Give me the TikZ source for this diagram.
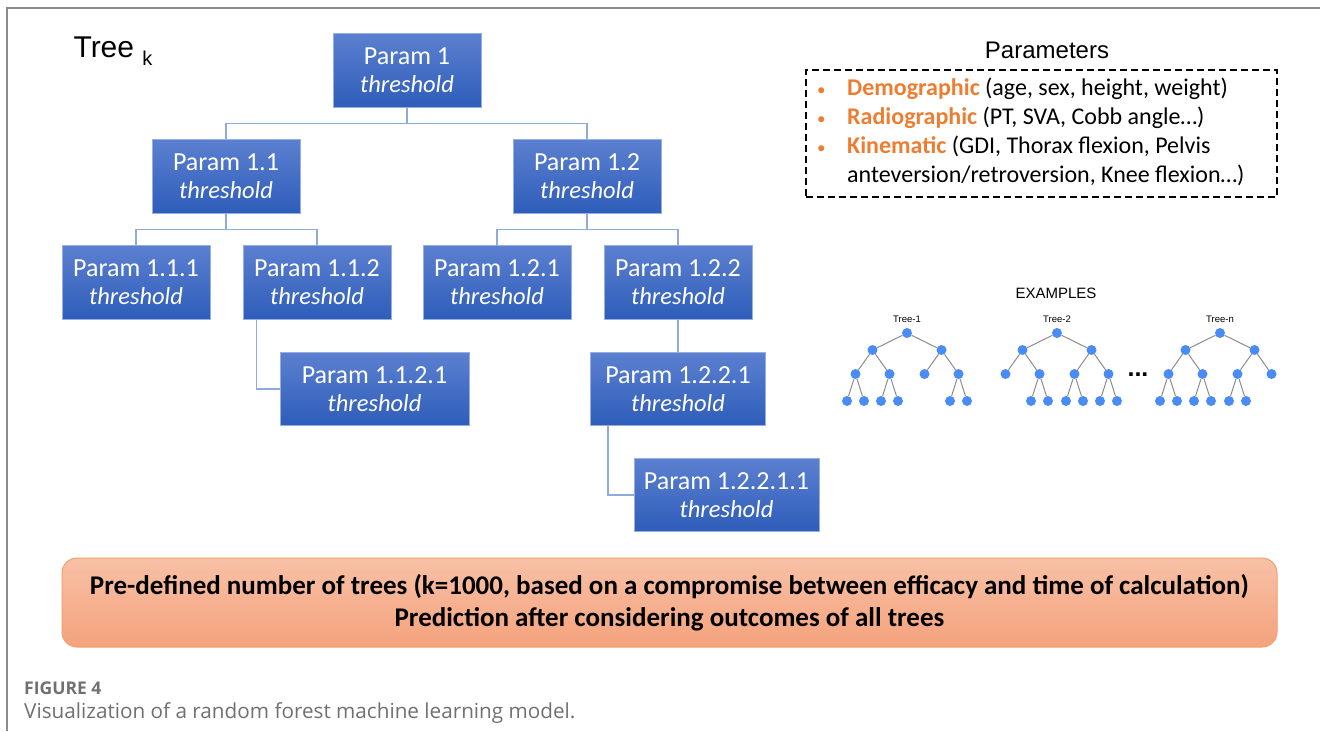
\documentclass[tikz,border=0pt]{standalone}
\usepackage{fontspec}
\usepackage{xcolor}
\usetikzlibrary{calc}

\newfontfamily\calibri{Carlito}
\newfontfamily\arial{Liberation Sans}
\newfontfamily\capfont{Open Sans}

\definecolor{partop}{RGB}{92,128,208}
\definecolor{parbot}{RGB}{46,93,186}
\definecolor{parborder}{RGB}{150,175,225}
\definecolor{linkblue}{RGB}{143,170,220}
\definecolor{paramorange}{RGB}{237,125,49}
\definecolor{dotblue}{RGB}{74,139,245}
\definecolor{edgegray}{RGB}{140,140,140}
\definecolor{sumtop}{RGB}{248,193,166}
\definecolor{sumbot}{RGB}{244,162,124}
\definecolor{sumborder}{RGB}{242,160,112}
\definecolor{capgray}{RGB}{112,112,112}

\tikzset{
	param/.style={draw=parborder, line width=1pt, top color=partop, bottom color=parbot,
		text=white, minimum width=148pt, minimum height=74pt, inner sep=0pt,
		align=center, font=\calibri\fontsize{26}{28}\selectfont},
	link/.style={draw=linkblue, line width=1.3pt},
	dot/.style={circle, fill=dotblue, minimum size=10pt, inner sep=0pt},
	minilabel/.style={font=\arial\fontsize{9.5}{10}\selectfont},
}
\newcommand{\thr}{\\\fontsize{24.5}{28}\selectfont\textit{threshold}}
\newcommand{\bul}{\textcolor{paramorange}{\fontsize{17}{17}\selectfont •}}

\begin{document}
\begin{tikzpicture}[x=1pt,y=1pt]
	\useasboundingbox (0,0) rectangle (1320,-731);
	\draw[capgray!80, line width=1.5pt] (7,-731) -- (7,-8) -- (1320,-8);

	% decision tree k
	\node[anchor=base west, font=\arial\fontsize{30}{30}\selectfont] (treek) at (70,-57)
		{Tree \raisebox{-8pt}{\fontsize{20}{20}\selectfont k}};
	\node[param] (p1)     at (407,-70)  {Param 1\thr};
	\node[param] (p11)    at (226,-176) {Param 1.1\thr};
	\node[param] (p12)    at (587,-176) {Param 1.2\thr};
	\node[param] (p111)   at (136,-282) {Param 1.1.1\thr};
	\node[param] (p112)   at (317,-282) {Param 1.1.2\thr};
	\node[param] (p121)   at (497,-282) {Param 1.2.1\thr};
	\node[param] (p122)   at (678,-282) {Param 1.2.2\thr};
	\node[param, minimum width=189pt, minimum height=73pt] (p1121)  at (374.5,-389) {Param 1.1.2.1\thr};
	\node[param, minimum width=175pt, minimum height=73pt] (p1221)  at (678,-389)   {Param 1.2.2.1\thr};
	\node[param, minimum width=185pt, minimum height=73pt] (p12211) at (726.5,-495) {Param 1.2.2.1.1\thr};

	\draw[link] (p1.south) -- ++(0,-16) -| (p11.north);
	\draw[link] (p1.south) -- ++(0,-16) -| (p12.north);
	\draw[link] (p11.south) -- ++(0,-16) -| (p111.north);
	\draw[link] (p11.south) -- ++(0,-16) -| (p112.north);
	\draw[link] (p12.south) -- ++(0,-16) -| (p121.north);
	\draw[link] (p12.south) -- ++(0,-16) -| (p122.north);
	\draw[link] ([xshift=14pt]p112.south west) |- (p1121.west);
	\draw[link] (p122.south) -- (p1221.north);
	\draw[link] ([xshift=18pt]p1221.south west) |- (p12211.west);

	% parameter list
	\node[font=\arial\fontsize{24}{24}\selectfont] (partitle) at (1047,-50) {Parameters};
	\node[draw, dashed, dash pattern=on 7pt off 4pt, line width=1.5pt,
		minimum width=471pt, minimum height=127pt] (parbox) at (1041.5,-133.5) {};
	\node[anchor=west, inner sep=0pt, font=\calibri\fontsize{24}{29}\selectfont] (parlines) at (817,-133) {%
		\begin{tabular}{@{}p{30pt}@{}l@{}}
		\bul & \textbf{\textcolor{paramorange}{Demographic}} (age, sex, height, weight)\\
		\bul & \textbf{\textcolor{paramorange}{Radiographic}} (PT, SVA, Cobb angle…)\\
		\bul & \textbf{\textcolor{paramorange}{Kinematic}} (GDI, Thorax flexion, Pelvis\\
		 & anteversion/retroversion, Knee flexion…)
		\end{tabular}};

	% small forest
	\node[font=\arial\fontsize{15}{15}\selectfont] (examples) at (1056,-293) {EXAMPLES};
	\node[minilabel] (la) at (907,-319)  {Tree-1};
	\node[minilabel] (lb) at (1057,-319) {Tree-2};
	\node[minilabel] (lc) at (1220,-319) {Tree-n};
	\begin{scope}[every child node/.style={dot},
		edge from parent/.style={draw=edgegray, line width=1pt},
		level 1/.style={level distance=17pt, sibling distance=69pt},
		level 2/.style={level distance=24pt, sibling distance=34pt},
		level 3/.style={level distance=27pt, sibling distance=17pt}]
	\node[dot] (ta) at (907,-333) {}
		child {node {}
			child {node {} child {node {}} child {node {}}}
			child {node {} child {node {}} child {node {}}}}
		child {node {}
			child {node {}}
			child {node {} child {node {}} child {node {}}}};
	\node[dot] (tb) at (1057,-333) {}
		child {node {}
			child {node {}}
			child {node {} child {node {}} child {node {}}}}
		child {node {}
			child {node {} child {node {}} child {node {}}}
			child {node {} child {node {}} child {node {}}}};
	\node[dot] (tc) at (1220,-333) {}
		child {node {}
			child {node {} child {node {}} child {node {}}}
			child {node {} child {node {}} child {node {}}}}
		child {node {}
			child {node {} child {node {}} child {node {}}}
			child {node {}}};
	\end{scope}
	\node[anchor=base, font=\arial\bfseries\fontsize{25}{25}\selectfont] (more) at (1138,-376) {...};

	% summary
	\node[draw=sumborder, line width=1pt, rounded corners=15pt, top color=sumtop, bottom color=sumbot,
		minimum width=1215pt, minimum height=89pt, align=center,
		font=\calibri\bfseries\fontsize{27}{32}\selectfont] (summary) at (669.5,-602.5)
		{Pre-defined number of trees (k=1000, based on a compromise between efficacy and time of calculation)\\
		Prediction after considering outcomes of all trees};

	% caption
	\node[anchor=base west, inner sep=0pt, text=capgray, font=\capfont\bfseries\fontsize{17.5}{17.5}\selectfont] (figno) at (24,-694) {FIGURE 4};
	\node[anchor=base west, inner sep=0pt, text=capgray, font=\capfont\fontsize{20.7}{20.7}\selectfont] (figcap) at (24,-718) {Visualization of a random forest machine learning model.};
\end{tikzpicture}
\end{document}
